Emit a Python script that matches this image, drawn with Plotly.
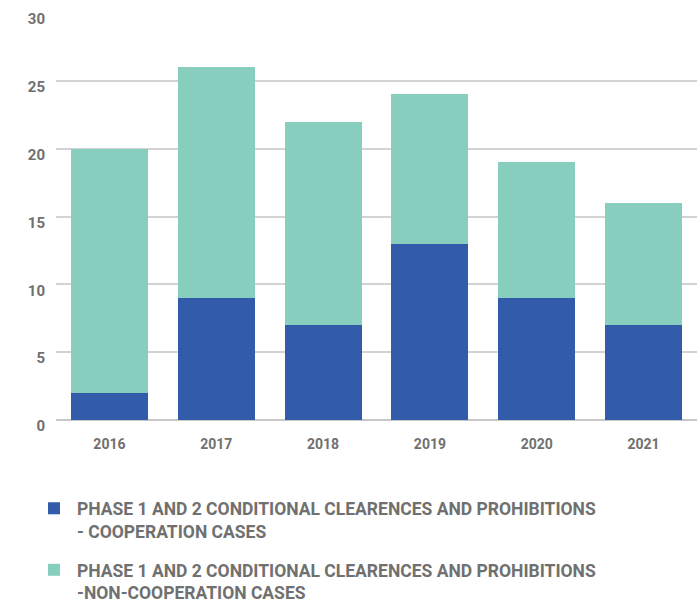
import plotly.graph_objects as go

years = ["2016", "2017", "2018", "2019", "2020", "2021"]
coop = [2, 9, 7, 13, 9, 7]
noncoop = [18, 17, 15, 11, 10, 9]
y_ticks = [0, 5, 10, 15, 20, 25, 30]

name_coop = "PHASE 1 AND 2 CONDITIONAL CLEARENCES AND PROHIBITIONS<br>- COOPERATION CASES"
name_non = "PHASE 1 AND 2 CONDITIONAL CLEARENCES AND PROHIBITIONS<br>-NON-COOPERATION CASES"

fig = go.Figure()
fig.add_trace(go.Bar(x=years, y=coop, name=name_coop, marker_color="#325BAA",
                     marker_line_width=0, legendgroup="a"))
fig.add_trace(go.Bar(x=years, y=noncoop, name=name_non, marker_color="#87CEBF",
                     marker_line_width=0, legendgroup="b"))

fig.update_layout(
    width=698, height=605,
    barmode="stack", bargap=0.28,
    plot_bgcolor="white", paper_bgcolor="white",
    margin=dict(l=56, r=1, t=13, b=185, autoexpand=False),
    font=dict(family="Roboto", color="#707070", size=14),
    legend=dict(orientation="v", x=-0.039, xanchor="left", y=-0.173, yanchor="top",
                traceorder="grouped", tracegroupgap=13, valign="top", itemwidth=36,
                font=dict(size=17.5, color="#707070", family="Roboto", weight="bold")),
    xaxis=dict(showgrid=False, showline=False, ticks="",
               tickfont=dict(size=14, weight="bold"), ticklabelstandoff=14),
    yaxis=dict(range=[0, 30], tickvals=y_ticks, showgrid=True, gridcolor="#d3d3d3",
               gridwidth=1.5, zeroline=True, zerolinecolor="#c8c8c8", zerolinewidth=1.5,
               tickfont=dict(size=15, weight="bold"), ticklabelstandoff=10,
               ticklabelshift=6),
)

fig.write_html("out.html")
